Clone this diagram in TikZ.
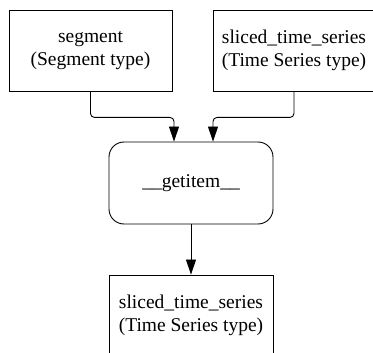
\documentclass[tikz,border=0pt]{standalone}
\usepackage{fontspec}
\setmainfont{Liberation Serif}
\usetikzlibrary{arrows.meta}
\tikzset{
  box/.style={draw, line width=0.9pt, align=center, inner sep=0pt,
    font=\fontsize{19.5}{23}\selectfont},
  rbox/.style={box, rounded corners=15pt},
  arr/.style={draw, line width=0.9pt, rounded corners=4pt,
    -{Triangle[width=10pt,length=15pt]}}
}
\begin{document}
\begin{tikzpicture}[x=1pt,y=-1pt]
\useasboundingbox (0,0) rectangle (373,353);
\clip (0,0) rectangle (373,353);
\node[box, minimum width=163pt, minimum height=81pt] (seg) at (90.5,50.5) {segment\\(Segment type)};
\node[box, minimum width=162pt, minimum height=81pt] (sts) at (294,50.5) {sliced\_time\_series\\(Time Series type)};
\node[rbox, minimum width=164pt, minimum height=82pt] (get) at (191,183) {\_\_getitem\_\_};
\node[box, minimum width=164pt, minimum height=81pt] (out) at (191,315.5) {sliced\_time\_series\\(Time Series type)};
\draw[arr] (seg.south) -- ([yshift=-26pt]seg.south) -| ([xshift=-17pt]get.north);
\draw[arr] (sts.south) -- ([yshift=-26pt]sts.south) -| ([xshift=22pt]get.north);
\draw[arr] (get.south) -- (out.north);
\end{tikzpicture}
\end{document}
